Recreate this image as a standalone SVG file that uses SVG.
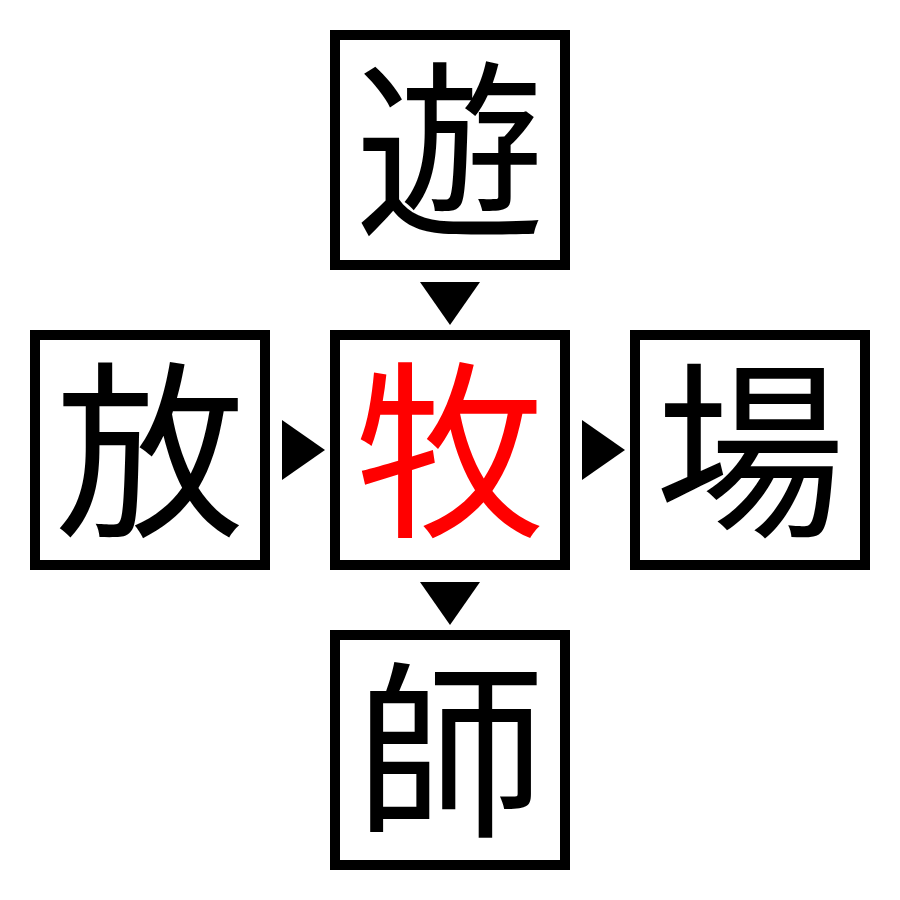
<svg xmlns="http://www.w3.org/2000/svg" width="900" height="900" viewBox="0 0 900 900">
<style>
.box{fill:#fff;stroke:#000;stroke-width:10}
.ch{font-family:"Noto Sans CJK JP","Noto Sans CJK SC",serif;font-size:190px;text-anchor:middle;fill:#000}
.arrow{fill:#000}
</style>
<rect width="900" height="900" fill="#fff"/>
<g id="node-top"><rect class="box" x="335" y="35" width="230" height="230"/><text class="ch" x="450" y="222">遊</text></g>
<g id="node-left"><rect class="box" x="35" y="335" width="230" height="230"/><text class="ch" x="150" y="522">放</text></g>
<g id="node-center"><rect class="box" x="335" y="335" width="230" height="230"/><text class="ch" x="450" y="522" style="fill:#ff0000">牧</text></g>
<g id="node-right"><rect class="box" x="635" y="335" width="230" height="230"/><text class="ch" x="750" y="522">場</text></g>
<g id="node-bottom"><rect class="box" x="335" y="635" width="230" height="230"/><text class="ch" x="450" y="822">師</text></g>
<g id="connectors">
<polygon class="arrow" points="420,282 480,282 450,325"/>
<polygon class="arrow" points="282,420 325,450 282,480"/>
<polygon class="arrow" points="582,420 625,450 582,480"/>
<polygon class="arrow" points="420,582 480,582 450,625"/>
</g>
</svg>
